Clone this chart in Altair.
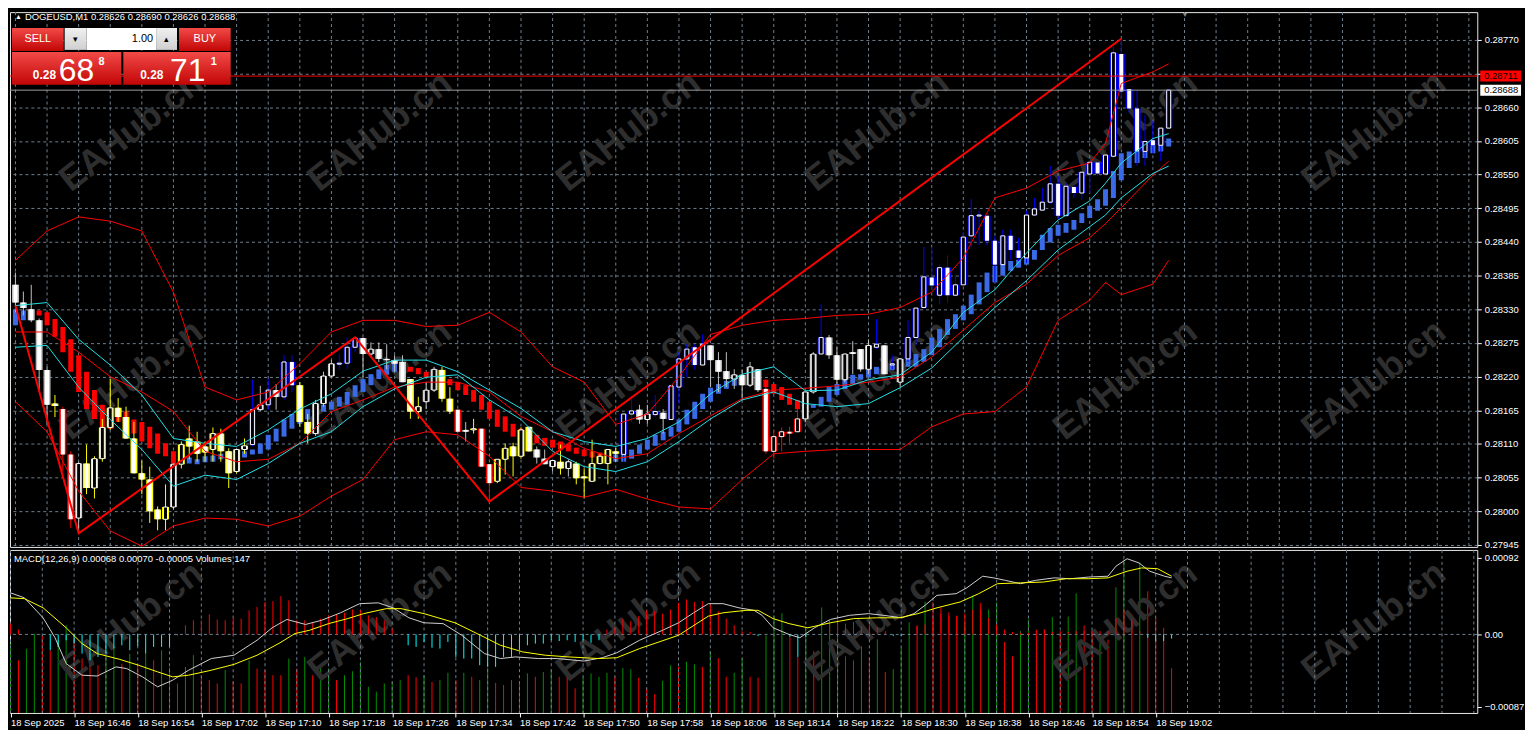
import altair as alt
import pandas as pd

# ------------------------------------------------------------------ data
# prices in units of 0.00001 ; one candle per minute from 18 Sep 16:38
opens = [28370, 28341, 28330, 28312, 28231, 28176, 28167, 28093, 27989, 28078,
         28038, 28086, 28137, 28169, 28154, 28119, 28062, 28052, 28003, 27987,
         28007, 28077, 28119, 28114, 28106, 28101, 28127, 28098, 28065, 28101,
         28109, 28166, 28174, 28198, 28187, 28244, 28206, 28146, 28127, 28176,
         28221, 28241, 28242, 28268, 28283, 28257, 28265, 28249, 28247, 28244,
         28216, 28163, 28179, 28198, 28231, 28184, 28166, 28133, 28133, 28135,
         28077, 28049, 28085, 28106, 28090, 28138, 28101, 28086, 28073, 28081,
         28070, 28078, 28057, 28049, 28078, 28078, 28098, 28093, 28159, 28166,
         28150, 28158, 28161, 28150, 28203, 28249, 28268, 28239, 28271, 28247,
         28229, 28216, 28223, 28206, 28232, 28200, 28098, 28122, 28130, 28130,
         28151, 28195, 28257, 28284, 28255, 28215, 28260, 28265, 28232, 28268,
         28271, 28239, 28211, 28249, 28284, 28333, 28382, 28353, 28398, 28353,
         28370, 28450, 28483, 28483, 28442, 28403, 28450, 28426, 28414, 28484,
         28492, 28505, 28535, 28483, 28530, 28520, 28551, 28570, 28551, 28580,
         28747, 28690, 28658, 28588, 28606, 28598, 28626]
highs = [28390, 28359, 28370, 28315, 28236, 28190, 28171, 28098, 28081, 28109,
         28090, 28151, 28216, 28185, 28171, 28146, 28083, 28073, 28008, 28044,
         28078, 28114, 28140, 28130, 28114, 28137, 28135, 28103, 28101, 28119,
         28215, 28205, 28216, 28208, 28255, 28255, 28211, 28159, 28182, 28228,
         28247, 28257, 28284, 28284, 28284, 28276, 28276, 28273, 28255, 28255,
         28216, 28187, 28211, 28236, 28236, 28203, 28166, 28146, 28151, 28135,
         28077, 28085, 28111, 28112, 28137, 28138, 28106, 28101, 28083, 28109,
         28085, 28081, 28070, 28117, 28094, 28101, 28104, 28159, 28187, 28174,
         28174, 28190, 28167, 28206, 28260, 28273, 28273, 28289, 28271, 28260,
         28260, 28232, 28232, 28244, 28232, 28215, 28133, 28137, 28138, 28182,
         28195, 28260, 28338, 28288, 28268, 28257, 28278, 28265, 28281, 28314,
         28271, 28255, 28249, 28312, 28332, 28432, 28432, 28403, 28418, 28387,
         28457, 28510, 28491, 28483, 28450, 28460, 28460, 28447, 28491, 28512,
         28528, 28564, 28548, 28536, 28533, 28554, 28573, 28573, 28598, 28759,
         28772, 28690, 28688, 28647, 28638, 28626, 28690]
lows = [28325, 28320, 28309, 28198, 28142, 28154, 28065, 27973, 27964, 28028,
        28021, 28081, 28133, 28146, 28119, 28062, 28028, 27981, 27969, 27969,
        28003, 28070, 28085, 28081, 28081, 28081, 28081, 28038, 28062, 28094,
        28106, 28164, 28166, 28166, 28182, 28195, 28138, 28111, 28123, 28171,
        28219, 28231, 28232, 28260, 28219, 28253, 28244, 28232, 28228, 28211,
        28151, 28151, 28167, 28195, 28179, 28159, 28127, 28114, 28127, 28073,
        28016, 28046, 28060, 28057, 28086, 28098, 28078, 28077, 28065, 28060,
        28057, 28044, 28021, 28049, 28077, 28044, 28081, 28081, 28146, 28143,
        28143, 28154, 28127, 28150, 28176, 28219, 28232, 28239, 28203, 28195,
        28203, 28200, 28182, 28203, 28195, 28094, 28086, 28098, 28111, 28130,
        28146, 28192, 28257, 28249, 28208, 28211, 28224, 28228, 28224, 28265,
        28224, 28232, 28203, 28244, 28271, 28330, 28362, 28338, 28341, 28353,
        28370, 28431, 28435, 28434, 28374, 28403, 28411, 28409, 28406, 28483,
        28492, 28502, 28476, 28483, 28512, 28509, 28520, 28548, 28549, 28578,
        28674, 28650, 28564, 28564, 28585, 28572, 28626]
closes = [28341, 28332, 28312, 28231, 28174, 28172, 28093, 27987, 28078, 28038,
          28086, 28137, 28169, 28154, 28119, 28062, 28052, 28000, 27987, 28007,
          28077, 28109, 28106, 28094, 28096, 28127, 28098, 28062, 28101, 28107,
          28166, 28174, 28198, 28187, 28244, 28206, 28146, 28127, 28176, 28221,
          28241, 28242, 28268, 28283, 28257, 28265, 28249, 28247, 28241, 28211,
          28163, 28171, 28198, 28232, 28184, 28163, 28130, 28130, 28135, 28073,
          28046, 28085, 28103, 28090, 28133, 28098, 28088, 28077, 28083, 28070,
          28081, 28054, 28054, 28078, 28090, 28101, 28094, 28159, 28164, 28150,
          28159, 28163, 28151, 28205, 28249, 28265, 28239, 28273, 28247, 28228,
          28216, 28223, 28206, 28236, 28198, 28098, 28122, 28130, 28127, 28151,
          28195, 28257, 28284, 28255, 28215, 28257, 28257, 28232, 28271, 28273,
          28224, 28241, 28249, 28284, 28332, 28383, 28369, 28398, 28353, 28370,
          28448, 28483, 28484, 28442, 28403, 28450, 28427, 28414, 28484, 28494,
          28505, 28535, 28483, 28531, 28520, 28554, 28570, 28552, 28582, 28749,
          28686, 28658, 28588, 28604, 28598, 28626, 28688]
# colouring of the candles by the trend indicator (g=neutral, b=up, y=weak, r=down)
candle_state = list("ggggg" "y" "rr" "g" "yyyyyyyyyyy" "g" "yyyyyyyyy" "bgbgbb" "yy"
                    "ggg" "bbb" "gggggg" "yy" "gg" "yy" "rgyrr" "yyyyy" "ggg" "yg"
                    "yyyyyy" "bbggbg" "bbbbb" "ggggggg" "rrrrr" "gg" "b" "gggggg"
                    "bgbg" "bbbbbbbbbbbbbbbbbbbbbbbbbbbbbbbbbb")

# smoothed Heiken-Ashi ribbon: body top / bottom, direction
ha_top = [28330, 28328, 28330, 28328, 28325, 28314, 28301, 28281, 28255, 28228,
          28198, 28174, 28167, 28166, 28163, 28150, 28146, 28138, 28127, 28111,
          28098, 28094, 28088, 28085, 28090, 28091, 28094, 28093, 28094, 28098,
          28101, 28111, 28125, 28135, 28150, 28159, 28163, 28167, 28171, 28174,
          28179, 28187, 28195, 28206, 28216, 28224, 28232, 28239, 28241, 28241,
          28236, 28234, 28228, 28224, 28219, 28216, 28211, 28206, 28198, 28190,
          28179, 28166, 28155, 28143, 28135, 28130, 28125, 28120, 28117, 28114,
          28109, 28104, 28101, 28098, 28096, 28094, 28093, 28094, 28101, 28109,
          28117, 28125, 28130, 28138, 28150, 28166, 28179, 28192, 28202, 28208,
          28213, 28216, 28219, 28223, 28219, 28215, 28208, 28203, 28192, 28182,
          28176, 28174, 28187, 28203, 28208, 28215, 28223, 28224, 28231, 28236,
          28241, 28241, 28244, 28249, 28257, 28265, 28284, 28298, 28314, 28322,
          28336, 28354, 28374, 28390, 28401, 28408, 28409, 28411, 28422, 28427,
          28452, 28463, 28468, 28471, 28476, 28487, 28499, 28510, 28526, 28556,
          28585, 28588, 28591, 28593, 28598, 28601, 28609]
ha_bot = [28304, 28312, 28315, 28320, 28304, 28285, 28260, 28228, 28195, 28167,
          28151, 28135, 28135, 28146, 28138, 28127, 28114, 28103, 28094, 28090,
          28078, 28081, 28078, 28077, 28080, 28081, 28085, 28081, 28085, 28088,
          28093, 28094, 28101, 28114, 28122, 28135, 28143, 28150, 28156, 28163,
          28166, 28171, 28174, 28187, 28195, 28206, 28216, 28223, 28228, 28231,
          28228, 28224, 28219, 28215, 28210, 28206, 28198, 28190, 28179, 28166,
          28151, 28138, 28130, 28122, 28114, 28112, 28111, 28107, 28104, 28101,
          28098, 28094, 28090, 28088, 28086, 28085, 28081, 28081, 28086, 28094,
          28101, 28107, 28116, 28122, 28130, 28142, 28151, 28167, 28179, 28192,
          28200, 28205, 28208, 28211, 28208, 28203, 28192, 28182, 28174, 28167,
          28166, 28169, 28171, 28179, 28190, 28200, 28208, 28215, 28219, 28224,
          28228, 28231, 28234, 28236, 28236, 28244, 28255, 28268, 28288, 28298,
          28312, 28322, 28338, 28358, 28374, 28385, 28393, 28398, 28403, 28411,
          28427, 28439, 28450, 28455, 28460, 28471, 28479, 28491, 28499, 28512,
          28541, 28561, 28569, 28577, 28585, 28588, 28596]
ha_dir = list("bbb" + "r" * 19 + "b" * 28 + "r" * 25 + "b" * 20 + "r" * 6 + "b" * 46)

# indicator lines read at every 4th candle
line_idx = [0, 4, 8, 12, 16, 20, 24, 28, 32, 36, 40, 44, 48, 52, 56, 60, 64, 68, 72, 76,
            80, 84, 88, 92, 96, 100, 104, 108, 112, 116, 120, 124, 128, 132, 136, 138,
            140, 144, 146]
bb_upper = [28410, 28458, 28481, 28474, 28458, 28358, 28203, 28182, 28195, 28241,
            28293, 28312, 28312, 28302, 28304, 28325, 28293, 28236, 28211, 28142,
            28159, 28220, 28289, 28304, 28312, 28315, 28320, 28322, 28333, 28358,
            28414, 28512, 28528, 28556, 28569, 28601, 28699, 28718, 28731]
bb_middle = [28293, 28293, 28260, 28220, 28195, 28163, 28098, 28081, 28085, 28111,
             28163, 28182, 28203, 28211, 28211, 28195, 28155, 28130, 28103, 28086,
             28094, 28127, 28156, 28184, 28198, 28201, 28205, 28211, 28219, 28252,
             28296, 28341, 28371, 28418, 28447, 28470, 28496, 28549, 28572]
bb_lower = [28179, 28130, 28033, 27968, 27943, 27976, 27989, 27987, 27976, 27992,
            28025, 28052, 28117, 28130, 28125, 28090, 28039, 28033, 28023, 28036,
            28020, 28007, 28004, 28052, 28094, 28098, 28101, 28101, 28101, 28138,
            28159, 28163, 28203, 28312, 28345, 28374, 28354, 28371, 28410]
env_upper = [28336, 28341, 28281, 28239, 28190, 28119, 28111, 28106, 28133, 28167,
             28192, 28229, 28247, 28247, 28228, 28198, 28168, 28130, 28114, 28106,
             28119, 28146, 28192, 28224, 28236, 28197, 28198, 28215, 28223, 28260,
             28325, 28362, 28422, 28476, 28507, 28536, 28569, 28609, 28617]
env_lower = [28268, 28271, 28203, 28150, 28101, 28041, 28059, 28052, 28078, 28111,
             28130, 28171, 28200, 28219, 28223, 28182, 28150, 28098, 28073, 28065,
             28081, 28114, 28151, 28182, 28195, 28176, 28171, 28176, 28202, 28234,
             28284, 28333, 28377, 28427, 28465, 28484, 28512, 28552, 28564]

zigzag_idx = [0, 8, 43, 60, 140]
zigzag_val = [28336, 27964, 28284, 28016, 28772]

bid_price = 0.28688
ask_price = 0.28711

# MACD(12,26,9) panel, units of 0.00001
macd_idx = [0, 1.75, 4.1, 5.6, 7, 9, 10.9, 13.25, 14.6, 16.6, 18.5, 20.4, 22.4, 25.25,
            28.1, 31, 32.9, 34.75, 37.1, 39.1, 41.5, 43.9, 46.25, 48.1, 50.1, 52, 54.4,
            56.75, 59.6, 61.6, 63.5, 66.4, 68.75, 72.1, 74.4, 76.25, 79.1, 82, 84, 85.9,
            87.75, 89.6, 91.6, 93.5, 94.5, 95.9, 97.9, 99.25, 101.1, 103.1, 105.5, 107.9,
            109.75, 112.1, 113.6, 115, 116.5, 118.9, 120.25, 122.25, 123.6, 125.1, 127,
            128.9, 131.25, 133.25, 135.6, 138, 139, 140.4, 141.9, 143.25, 145.1, 146]
macd_val = [50, 44, 20, -4, -35, -49, -50, -39, -41, -51, -63, -55, -43, -29, -25, -7,
            8, 18, 12, 17, 26, 37, 38, 32, 20, 14, 13, -1, -23, -29, -27, -29, -29, -32,
            -28, -22, -7, 5, 14, 26, 37, 37, 32, 29, 23, 8, 0, -4, 8, 18, 23, 25, 23, 20,
            25, 35, 47, 49, 56, 70, 68, 65, 61, 65, 68, 67, 69, 70, 82, 91, 86, 76, 70, 68]
signal_idx = [0, 1.75, 4.1, 7, 9, 10.9, 13.75, 16.1, 18.5, 20.4, 22.4, 25.25, 28.1, 31,
              33.9, 35.75, 37.6, 40, 42.4, 44.4, 47.25, 49.1, 52, 55.9, 59.1, 61.6, 64.4,
              67.25, 70.1, 74, 76.25, 79.1, 84, 87.75, 89.6, 92.5, 94, 95.9, 97.9, 100.25,
              103.1, 106, 108.9, 111.75, 114.1, 116.5, 119.4, 121.75, 124.1, 127, 129.9,
              132.75, 135.6, 138, 140.4, 142.25, 144.25, 146]
signal_val = [44, 43, 32, 8, -11, -23, -30, -37, -45, -51, -49, -43, -36, -25, -10, 1,
              5, 13, 19, 25, 31, 31, 25, 14, -1, -13, -21, -25, -27, -29, -28, -17, -1,
              22, 26, 29, 29, 19, 13, 8, 14, 19, 20, 20, 25, 32, 39, 49, 61, 62, 63, 67,
              67, 68, 76, 80, 79, 70]
osma = [13, 6, 0, 0, 0, -19, -15, -7, -11, -23,
        -31, -27, -23, -17, -13, -19, -14, -23, -15, -15,
        -15, -1, 11, 17, 17, 24, 18, 17, 20, 19,
        29, 33, 39, 40, 46, 41, 17, 17, 15, 19,
        23, 24, 26, 30, 29, 23, 21, 17, 7, 0,
        -13, -15, -9, -16, -17, -9, -27, -29, -29, -37,
        -39, -39, -27, -27, -19, -13, -11, -11, -7, -8,
        -7, -9, -7, -10, -7, 6, 8, 19, 16, 22,
        29, 28, 25, 30, 38, 42, 39, 40, 36, 28,
        19, 11, 4, 3, -2, 0, 0, 0, -3, -27,
        -3, 0, 0, 15, 18, 13, 15, 10, 11, 9,
        4, -2, -2, 0, 10, 12, 20, 25, 22, 22,
        25, 30, 30, 20, 12, 6, 3, 2, 2, 4,
        5, 3, 2, 3, 4, 4, 4, 4, 4, 20,
        30, 18, 4, -4, -8, -8, -5]
volumes = [228, 173, 211, 260, 255, 206, 239, 288, 249, 179,
           168, 157, 206, 217, 162, 195, 157, 195, 173, 206,
           150, 97, 151, 190, 119, 108, 97, 141, 102, 97,
           173, 146, 141, 124, 124, 179, 146, 184, 124, 151,
           146, 108, 124, 137, 168, 86, 70, 97, 102, 108,
           124, 117, 124, 102, 108, 132, 108, 132, 119, 108,
           149, 99, 92, 108, 95, 130, 119, 135, 143, 119,
           132, 81, 117, 130, 119, 132, 119, 148, 144, 116,
           81, 62, 106, 157, 151, 168, 160, 151, 203, 180,
           119, 132, 179, 119, 116, 255, 320, 328, 249, 184,
           277, 203, 347, 304, 257, 186, 173, 219, 181, 242,
           135, 144, 215, 298, 288, 366, 364, 347, 331, 320,
           290, 386, 361, 340, 364, 233, 186, 269, 307, 274,
           275, 315, 269, 317, 393, 288, 271, 249, 241, 413,
           505, 324, 494, 400, 313, 280, 147]
volume_state = list("grggrrggrr" "rrggrgrgrg" "rrggrrrgrr" "grrrrgrgrg" "grgggggggg"
                    "rrgrggrgrg" "grrgrgrggr" "rrggggrggr" "rrggrggrgr" "rggrrgggrr"
                    "grgggrrgrg" "rgggrgrrrr" "ggrggrrggr" "rgrggrrgrg" "grgrrrr")

time_labels = ["18 Sep 2025", "18 Sep 16:46", "18 Sep 16:54", "18 Sep 17:02", "18 Sep 17:10",
               "18 Sep 17:18", "18 Sep 17:26", "18 Sep 17:34", "18 Sep 17:42", "18 Sep 17:50",
               "18 Sep 17:58", "18 Sep 18:06", "18 Sep 18:14", "18 Sep 18:22", "18 Sep 18:30",
               "18 Sep 18:38", "18 Sep 18:46", "18 Sep 18:54", "18 Sep 19:02"]
price_ticks = [0.27945, 0.28000, 0.28055, 0.28110, 0.28165, 0.28220, 0.28275, 0.28330,
               0.28385, 0.28440, 0.28495, 0.28550, 0.28605, 0.28660, 0.28715, 0.28770]
macd_ticks = [-0.00087, 0.0, 0.00092]

header = "DOGEUSD,M1  0.28626 0.28690 0.28626 0.28688"
macd_header = "MACD(12,26,9) 0.00068 0.00070 -0.00005   Volumes 147"

# ------------------------------------------------------------------ frames
P = 1e-5
N = len(opens)
CMAP = {"g": "#c0c0c0", "b": "#0000ff", "y": "#ffff00", "r": "#ff0000"}
HAMAP = {"b": "#3a6ae6", "r": "#ff0000"}
VMAP = {"g": "#009000", "r": "#ff0000"}
GRID = "#6f8090"
FONT = "Liberation Sans"

cd = pd.DataFrame({"i": range(N),
                   "o": [v * P for v in opens], "h": [v * P for v in highs],
                   "l": [v * P for v in lows], "c": [v * P for v in closes],
                   "col": [CMAP[k] for k in candle_state]})
cd["top"] = cd[["o", "c"]].max(axis=1)
cd["bot"] = pd.concat([cd[["o", "c"]].min(axis=1), cd["top"] - 1.6e-5], axis=1).min(axis=1)
cd["bull"] = cd["c"] > cd["o"]

ha = pd.DataFrame({"i": range(N), "t": [v * P for v in ha_top], "b": [v * P for v in ha_bot],
                   "col": [HAMAP[k] for k in ha_dir]})

rows = []
for name, vals, col in [("bbu", bb_upper, "#ff0000"), ("bbm", bb_middle, "#ff0000"),
                        ("bbl", bb_lower, "#ff0000"), ("enu", env_upper, "#22e0e6"),
                        ("enl", env_lower, "#22e0e6")]:
    for k, v in zip(line_idx, vals):
        rows.append({"i": k, "v": v * P, "s": name, "col": col})
lines = pd.DataFrame(rows)
zz = pd.DataFrame({"i": zigzag_idx, "v": [v * P for v in zigzag_val]})
grid_df = pd.DataFrame({"g": list(range(0, 185, 4))})
quotes = pd.DataFrame({"p": [ask_price, bid_price], "col": ["#ff0000", "#9a9a9a"],
                       "box": ["#ff0000", "#ffffff"], "lab": ["0.28711", "0.28688"]})

macd_df = pd.DataFrame({"i": macd_idx, "v": [v * P for v in macd_val]})
sig_df = pd.DataFrame({"i": signal_idx, "v": [v * P for v in signal_val]})
osma_df = pd.DataFrame({"i": range(N), "h": [v * P for v in osma], "z": 0.0})
osma_df["col"] = ["#ff0000" if v > 0 else "#00ffff" for v in osma]
vol_df = pd.DataFrame({"i": range(N), "vol": volumes, "z": 0,
                       "col": [VMAP[k] for k in volume_state]})

one = pd.DataFrame({"a": [0.0]})

# ------------------------------------------------------------------ scales
XS = alt.Scale(domain=[-0.0625, 184.4375], nice=False, zero=False)
YS = alt.Scale(domain=[0.279418, 0.288155], nice=False, zero=False)
MS = alt.Scale(domain=[-0.000944, 0.001016], nice=False, zero=False)

y_axis = alt.Axis(orient="right", values=price_ticks, title=None, domain=False,
                  labelExpr="abs(datum.value - 0.28715) < 0.000001 ? '' : format(datum.value, '.5f')",
                  grid=True, gridColor=GRID, gridDash=[3, 3], gridWidth=1,
                  tickColor="white", tickSize=4, labelColor="white", labelFont=FONT,
                  labelFontSize=9.5, labelPadding=3, labelOverlap=False, labelFlush=False)
labels_js = "[" + ",".join("'%s'" % s for s in time_labels) + "]"
x_axis = alt.Axis(values=list(range(0, 145, 8)), labelExpr=labels_js + "[round(datum.value/8)]",
                  labelAlign="left", labelBaseline="top", labelPadding=1, labelColor="white",
                  labelFont=FONT, labelFontSize=9.5, tickColor="white", tickSize=4,
                  domain=False, grid=False, title=None, labelOverlap=False, labelFlush=False)
m_axis = alt.Axis(orient="right", values=macd_ticks, title=None, domain=False, grid=False,
                  labelExpr="datum.value == 0 ? '0.00' : format(datum.value, '.5f')",
                  tickColor="white", tickSize=4, labelColor="white", labelFont=FONT,
                  labelFontSize=9.5, labelPadding=3, labelOverlap=False, labelFlush=False)


def X(f="i"):
    return alt.X(f + ":Q", scale=XS, axis=None, title=None)


def Y(f):
    return alt.Y(f + ":Q", scale=YS, axis=y_axis, title=None)


def XM(f="i"):
    return alt.X(f + ":Q", scale=XS, axis=x_axis, title=None)


def YM(f):
    return alt.Y(f + ":Q", scale=MS, axis=m_axis, title=None)


def text(s, x, y, size=9.5, color="white", align="left", weight="normal", baseline="middle",
         angle=0, font=FONT):
    return alt.Chart(one).mark_text(text=s, x=x, y=y, fontSize=size, color=color, align=align,
                                    fontWeight=weight, baseline=baseline, angle=angle,
                                    font=font).encode(opacity=alt.value(1))


def box(x, x2, y, y2, fill):
    return alt.Chart(one).mark_rect(x=x, x2=x2, y=y, y2=y2, fill=fill).encode(opacity=alt.value(1))


red_grad = alt.Gradient(gradient="linear", x1=0, x2=0, y1=0, y2=1,
                        stops=[alt.GradientStop(color="#f24a48", offset=0),
                               alt.GradientStop(color="#c20606", offset=1)])
btn_grad = alt.Gradient(gradient="linear", x1=0, x2=0, y1=0, y2=1,
                        stops=[alt.GradientStop(color="#f0f0f0", offset=0),
                               alt.GradientStop(color="#cfcfcf", offset=1)])

WM = "#2e2e2e"
wm_x = [122, 372, 622, 872, 1122, 1372]

# ------------------------------------------------------------------ main panel
layers = []
for wy in [120, 370]:
    for wx in wm_x:
        layers.append(text("EAHub.cn", wx, wy, size=36, color=WM, align="center",
                           weight="bold", angle=322))
layers.append(alt.Chart(grid_df).mark_rule(strokeDash=[3, 3], color=GRID, strokeWidth=1)
              .encode(x=X("g")))
layers.append(alt.Chart(ha).mark_bar(size=5, clip=True)
              .encode(x=X(), y=Y("t"), y2="b:Q", color=alt.Color("col:N", scale=None)))
layers.append(alt.Chart(cd).mark_rule(strokeWidth=1, clip=True)
              .encode(x=X(), y=Y("l"), y2="h:Q", color=alt.Color("col:N", scale=None)))
layers.append(alt.Chart(cd).mark_bar(size=7, clip=True)
              .encode(x=X(), y=Y("top"), y2="bot:Q", color=alt.Color("col:N", scale=None)))
layers.append(alt.Chart(cd[cd["bull"]]).mark_bar(size=4, clip=True, fill="black",
                                                 stroke="white", strokeWidth=1)
              .encode(x=X(), y=Y("top"), y2="bot:Q"))
layers.append(alt.Chart(cd[~cd["bull"]]).mark_bar(size=4, clip=True, fill="white")
              .encode(x=X(), y=Y("top"), y2="bot:Q"))
layers.append(alt.Chart(lines).mark_line(strokeWidth=1, clip=True)
              .encode(x=X(), y=Y("v"), detail="s:N", order="i:Q",
                      color=alt.Color("col:N", scale=None)))
layers.append(alt.Chart(zz).mark_line(strokeWidth=2, color="#ff0000", clip=True)
              .encode(x=X(), y=Y("v")))
layers.append(alt.Chart(quotes).mark_rule(strokeWidth=1)
              .encode(y=Y("p"), color=alt.Color("col:N", scale=None)))
layers.append(alt.Chart(quotes).mark_point(shape="M-1,-0.27L1,-0.27L1,0.27L-1,0.27Z",
                                           size=1681, filled=True, opacity=1, strokeWidth=0)
              .encode(y=Y("p"), x=alt.value(1499.5), color=alt.Color("box:N", scale=None)))
layers.append(alt.Chart(quotes).mark_text(align="left", baseline="middle", fontSize=9.5,
                                          font=FONT, color="black")
              .encode(y=Y("p"), x=alt.value(1483), text="lab:N"))
# header and one-click trading panel
layers += [
    text("\u25b2", 5, 5, size=7),
    text(header, 15, 5),
    text("\u25bc", 1182, 3, size=7, color="#8a8a8a", align="center"),
    box(2, 54, 16, 39, red_grad), box(170, 222, 16, 39, red_grad),
    box(2, 112, 40, 73, red_grad), box(114, 222, 40, 73, red_grad),
    box(55, 77, 16, 38, btn_grad), box(77, 147, 16, 38, "#ffffff"), box(147, 168, 16, 38, btn_grad),
    text("SELL", 28, 27, size=11, align="center"),
    text("BUY", 196, 27, size=11, align="center"),
    text("1.00", 144, 27, size=11, color="black", align="right"),
    text("\u25be", 66, 27, size=9, color="black", align="center"),
    text("\u25b4", 157, 27, size=9, color="black", align="center"),
    text("0.28", 23, 67, size=12, weight="bold", baseline="alphabetic"),
    text("68", 49, 69, size=32, baseline="alphabetic"),
    text("8", 89, 50, size=11, weight="bold"),
    text("0.28", 131, 67, size=12, weight="bold", baseline="alphabetic"),
    text("71", 161, 69, size=32, baseline="alphabetic"),
    text("1", 202, 50, size=11, weight="bold"),
]
main = alt.layer(*layers).properties(width=1476, height=538)

# ------------------------------------------------------------------ MACD / volume panel
vol_layer = alt.Chart(vol_df).mark_rule(strokeWidth=1).encode(
    x=XM(), y=alt.Y("vol:Q", scale=alt.Scale(domain=[0, 536], nice=False, zero=True), axis=None,
                    title=None),
    y2="z:Q", color=alt.Color("col:N", scale=None))
mlayers = [text("EAHub.cn", wx, 72, size=36, color=WM, align="center", weight="bold", angle=322)
           for wx in wm_x]
mlayers += [
    alt.Chart(grid_df).mark_rule(strokeDash=[3, 3], color=GRID, strokeWidth=1).encode(x=XM("g")),
    alt.Chart(one).mark_rule(strokeDash=[3, 3], color=GRID, strokeWidth=1).encode(y=YM("a")),
    alt.Chart(osma_df).mark_rule(strokeWidth=1).encode(x=XM(), y=YM("h"), y2="z:Q",
                                                       color=alt.Color("col:N", scale=None)),
    alt.Chart(macd_df).mark_line(strokeWidth=1, color="#d0d0d0").encode(x=XM(), y=YM("v")),
    alt.Chart(sig_df).mark_line(strokeWidth=1, color="#ffff00").encode(x=XM(), y=YM("v")),
    text(macd_header, 4, 9),
]
macd = alt.layer(vol_layer, alt.layer(*mlayers)).resolve_scale(y="independent").properties(
    width=1476, height=164)

chart = alt.vconcat(main, macd, spacing=3, bounds="flush", padding=0).configure(
    background="black", padding=0
).configure_view(stroke="#e8e8e8", strokeWidth=1)

chart.save("out.html", embed_options={"renderer": "svg", "actions": False})
